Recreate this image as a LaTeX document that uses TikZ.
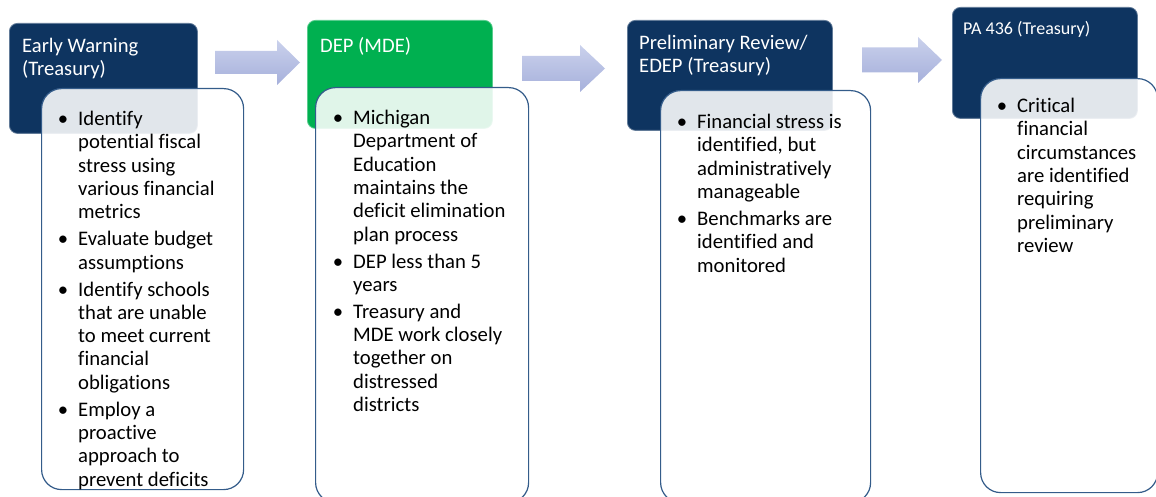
\documentclass[tikz,border=0pt]{standalone}
\usepackage{fontspec}
\setmainfont{Carlito}[Ligatures=CommonOff]
\definecolor{navyhead}{RGB}{14,52,96}
\definecolor{greenhead}{RGB}{0,176,80}
\definecolor{boxline}{RGB}{52,92,138}
\definecolor{arrowtop}{RGB}{202,209,236}
\definecolor{arrowbot}{RGB}{166,176,219}
\newcommand\bul{\llap{\textbullet\hspace{10pt}}}
\tikzset{
  headbox/.style={rounded corners=8pt, draw=white!35!#1, line width=0.8pt, fill=#1,
    anchor=north west, inner sep=0pt},
  headtext/.style={text=white, align=left, anchor=north west, inner sep=0pt,
    font=\fontsize{20.6}{22.8}\selectfont, execute at begin node={\rule{0pt}{17pt}}},
  bodybox/.style={rounded corners=20pt, draw=boxline, line width=1.2pt,
    fill=white, fill opacity=0.88, anchor=north west, inner sep=0pt},
  bodytext/.style={text=black, align=left, anchor=north west, inner sep=0pt,
    font=\fontsize{20.7}{23.3}\selectfont, execute at begin node={\rule{0pt}{17pt}}},
}
\begin{document}
\begin{tikzpicture}[x=1pt, y=-1pt]
  \useasboundingbox (0,0) rectangle (1156,497);
  % header boxes
  \node[headbox=navyhead, minimum width=188pt, minimum height=110pt] (h1) at (9,23) {};
  \node[headbox=greenhead, minimum width=185pt, minimum height=108pt] (h2) at (307,20) {};
  \node[headbox=navyhead, minimum width=205pt, minimum height=110pt] (h3) at (627,20) {};
  \node[headbox=navyhead, minimum width=185pt, minimum height=111pt] (h4) at (952,7) {};
  % header texts, placed 17pt above their first baseline
  \node[headtext] (h1t) at (22,38) {Early Warning\\(Treasury)};
  \node[headtext] (h2t) at (320,35) {DEP (MDE)};
  \node[headtext] (h3t) at (639,35) {Preliminary Review/\\EDEP (Treasury)};
  \node[headtext, font=\fontsize{18}{21}\selectfont] (h4t) at (963,17) {PA 436 (Treasury)};
  % block arrows between the headers
  \foreach \xl/\xh/\xt/\ym/\sh/\hh in {215/277/300/62.5/11.5/22.5,
      522/580/605/68.5/12.5/23.5, 862/918/942/60/12.5/23}
  {
    \shade[top color=arrowtop, bottom color=arrowbot]
      (\xl,\ym-\sh) -- (\xh,\ym-\sh) -- (\xh,\ym-\hh) -- (\xt,\ym)
      -- (\xh,\ym+\hh) -- (\xh,\ym+\sh) -- (\xl,\ym+\sh) -- cycle;
  }
  % text boxes
  \node[bodybox, minimum width=202pt, minimum height=401pt] (b1) at (41,88) {};
  \node[bodybox, minimum width=213pt, minimum height=415pt] (b2) at (315,87) {};
  \node[bodybox, minimum width=210pt, minimum height=412pt] (b3) at (660,90) {};
  \node[bodybox, minimum width=177pt, minimum height=414pt] (b4) at (980,78) {};
  \node[bodytext] (b1t) at (78,111) {\bul Identify\\potential fiscal\\stress using\\various financial\\metrics\\[3.7pt]
    \bul Evaluate budget\\assumptions\\[3.7pt]
    \bul Identify schools\\that are unable\\to meet current\\financial\\obligations\\[3.7pt]
    \bul Employ a\\proactive\\approach to\\prevent deficits};
  \node[bodytext] (b2t) at (353,110) {\bul Michigan\\Department of\\Education\\maintains the\\deficit elimination\\plan process\\[3.7pt]
    \bul DEP less than 5\\years\\[3.7pt]
    \bul Treasury and\\MDE work closely\\together on\\distressed\\districts};
  \node[bodytext] (b3t) at (697,114) {\bul Financial stress is\\identified, but\\administratively\\manageable\\[3.7pt]
    \bul Benchmarks are\\identified and\\monitored};
  \node[bodytext] (b4t) at (1017,98) {\bul Critical\\financial\\circumstances\\are identified\\requiring\\preliminary\\review};
\end{tikzpicture}
\end{document}
